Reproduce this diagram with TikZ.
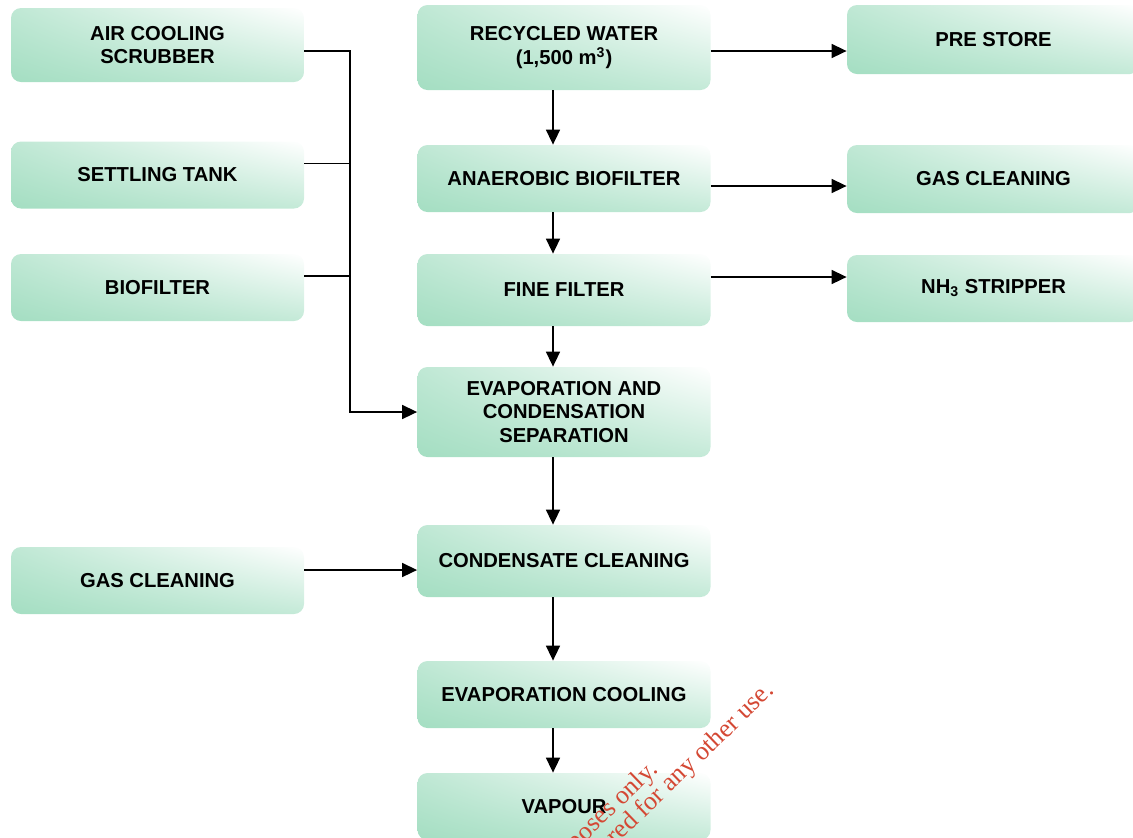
\documentclass[tikz,border=0pt]{standalone}
\usepackage{fontspec}
\setsansfont{Liberation Sans}
\newfontfamily\wmfont{Liberation Serif}
\usetikzlibrary{positioning,arrows.meta,shadings}
\definecolor{boxgreen}{RGB}{164,222,194}
\definecolor{wmred}{RGB}{212,72,52}
\tikzset{
  box/.style={rectangle, rounded corners=5pt, minimum width=146.5pt, align=center,
    lower left=boxgreen, upper left=boxgreen!70, lower right=boxgreen!65, upper right=white,
    font=\sffamily\bfseries\fontsize{10.1}{11.8}\selectfont},
  flow/.style={line width=0.8pt, -{Triangle[length=7.5pt,width=7pt]}},
  feed/.style={line width=0.8pt},
  wmark/.style={text=wmred, font=\wmfont\fontsize{13}{15}\selectfont, rotate=44, anchor=base east}
}

\begin{document}
\begin{tikzpicture}[x=0.5pt,y=-0.5pt]
      \path[use as bounding box, clip] (0,0) rectangle (1133,837);

      % Define the nodes of the left column
      \node[box, minimum height=37pt] (acs) at (157.5,45) {AIR COOLING\\SCRUBBER};
      \node[box, minimum height=33.5pt] (st) at (157.5,175) {SETTLING TANK};
      \node[box, minimum height=33.5pt] (bf) at (157.5,287.5) {BIOFILTER};
      \node[box, minimum height=33.5pt] (gcl) at (157.5,580.5) {GAS CLEANING};

      % Define the nodes of the main line
      \node[box, minimum height=42.5pt] (rw) at (564,47.5) {RECYCLED WATER\\(1,500 m\textsuperscript{3})};
      \node[box, minimum height=33.5pt] (ab) at (564,178.5) {ANAEROBIC BIOFILTER};
      \node[box, minimum height=36pt] (ff) at (564,290) {FINE FILTER};
      \node[box, minimum height=45pt] (ecs) at (564,412) {EVAPORATION AND\\CONDENSATION\\SEPARATION};
      \node[box, minimum height=36pt] (cc) at (564,561) {CONDENSATE CLEANING};
      \node[box, minimum height=33.5pt] (ec) at (564,694.5) {EVAPORATION COOLING};
      \node[box, minimum height=33.5pt] (vap) at (564,806.5) {VAPOUR};

      % Define the nodes of the right column
      \node[box, minimum height=34.5pt] (ps) at (993.5,39.5) {PRE STORE};
      \node[box, minimum height=34pt] (gcr) at (993.5,179) {GAS CLEANING};
      \node[box, minimum height=33.5pt] (nh) at (993.5,288.5) {NH\textsubscript{3} STRIPPER};

      % Draw the arrows down the main line
      \draw[flow] ([xshift=-5.5pt]rw.south) -- ([xshift=-5.5pt]rw.south |- ab.north);
      \draw[flow] ([xshift=-5.5pt]ab.south) -- ([xshift=-5.5pt]ab.south |- ff.north);
      \draw[flow] ([xshift=-5.5pt]ff.south) -- ([xshift=-5.5pt]ff.south |- ecs.north);
      \draw[flow] ([xshift=-5.5pt]ecs.south) -- ([xshift=-5.5pt]ecs.south |- cc.north);
      \draw[flow] ([xshift=-5.5pt]cc.south) -- ([xshift=-5.5pt]cc.south |- ec.north);
      \draw[flow] ([xshift=-5.5pt]ec.south) -- ([xshift=-5.5pt]ec.south |- vap.north);

      % Draw the arrows to the right column
      \draw[flow] ([yshift=-1.75pt]rw.east) -- ([yshift=-1.75pt]rw.east -| ps.west);
      \draw[flow] ([yshift=-3.75pt]ab.east) -- ([yshift=-3.75pt]ab.east -| gcr.west);
      \draw[flow] ([yshift=6.5pt]ff.east) -- ([yshift=6.5pt]ff.east -| nh.west);

      % Draw the feeds from the left column
      \coordinate (bus) at (350,0);
      \draw[flow] ([yshift=-3pt]acs.east) -| (bus |- ecs.west) -- (ecs.west);
      \draw[feed] ([yshift=5.75pt]st.east) -- ([yshift=5.75pt]st.east -| bus);
      \draw[feed] ([yshift=5.75pt]bf.east) -- ([yshift=5.75pt]bf.east -| bus);
      \draw[flow] ([yshift=5.25pt]gcl.east) -- ([yshift=5.25pt]gcl.east -| cc.west);

      % Watermark
      \node[wmark] (wm1) at (664,766) {poses only.};
      \node[wmark] (wm2) at (780,687) {red for any other use.};
\end{tikzpicture}
\end{document}
